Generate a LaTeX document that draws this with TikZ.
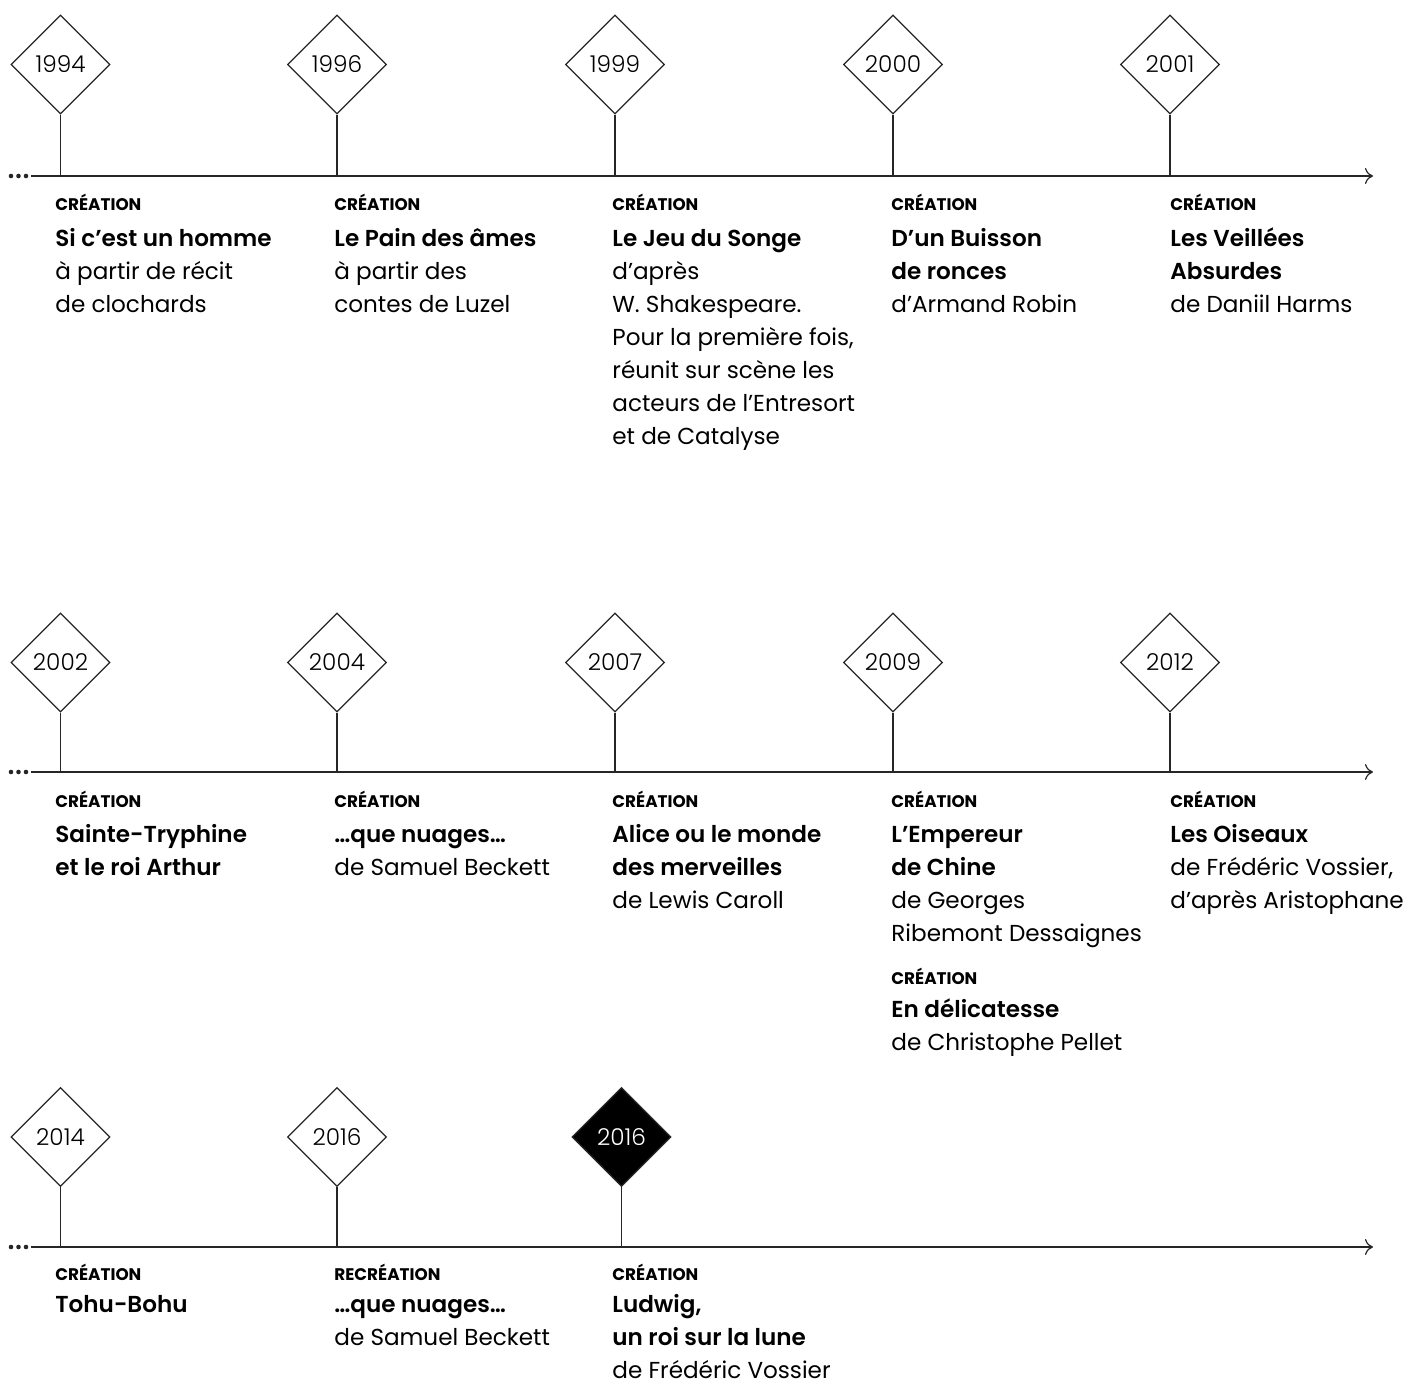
\documentclass[tikz,border=0pt]{standalone}
\usepackage{fontspec}
\setmainfont{Poppins}[BoldFont=* SemiBold]
\newfontfamily\yearfont{Poppins}[UprightFont=* Light]
\newfontfamily\tagfont{Poppins}[UprightFont=* Bold]
\usetikzlibrary{shapes,arrows.meta}
\tikzstyle{year} = [diamond, draw=black!85, line width=0.6pt, minimum width=49.5pt, minimum height=49.5pt, inner sep=0pt, font=\yearfont\fontsize{11.6}{13}\selectfont]
\tikzstyle{lastyear} = [year, fill=black, text=white]
\tikzstyle{tag} = [anchor=base west, inner sep=0pt, font=\tagfont\fontsize{8.4}{10}\selectfont]
\tikzstyle{info} = [anchor=north west, inner sep=0pt, align=left, font=\fontsize{11.55}{16.5}\selectfont]
\tikzstyle{stem} = [draw=black!85, line width=0.6pt]
\tikzstyle{timeline} = [draw=black!85, line width=0.6pt, -{To[length=4pt,width=8pt]}]

\begin{document}
\begin{tikzpicture}[x=0.5pt, y=-0.5pt]
      \useasboundingbox (0,0) rectangle (1403,1384);

      % first row
      \coordinate (startA) at (31,176);
      \coordinate (endA) at (1373,176);
      \fill[black!85] (11,176) circle (2.3) (18.5,176) circle (2.3) (26,176) circle (2.3);
      \path [timeline] (startA) -- (endA);

      \node [year] (y1994) at (60.5,64.5) {1994};
      \node [year] (y1996) at (337,64.5) {1996};
      \node [year] (y1999) at (615,64.5) {1999};
      \node [year] (y2000) at (893,64.5) {2000};
      \node [year] (y2001) at (1170,64.5) {2001};

      \path [stem] (y1994) -- (y1994 |- endA);
      \path [stem] (y1996) -- (y1996 |- endA);
      \path [stem] (y1999) -- (y1999 |- endA);
      \path [stem] (y2000) -- (y2000 |- endA);
      \path [stem] (y2001) -- (y2001 |- endA);

      \node [tag] (t1994) at (55,211) {CRÉATION};
      \node [info] (i1994) at (55,222.9) {\strut\textbf{Si c’est un homme}\\à partir de récit\\de clochards};
      \node [tag] (t1996) at (334,211) {CRÉATION};
      \node [info] (i1996) at (334,222.9) {\strut\textbf{Le Pain des âmes}\\à partir des\\contes de Luzel};
      \node [tag] (t1999) at (612,211) {CRÉATION};
      \node [info] (i1999) at (612,222.9) {\strut\textbf{Le Jeu du Songe}\\d’après\\W. Shakespeare.\\Pour la première fois,\\réunit sur scène les\\acteurs de l’Entresort\\et de Catalyse};
      \node [tag] (t2000) at (891,211) {CRÉATION};
      \node [info] (i2000) at (891,222.9) {\strut\textbf{D’un Buisson}\\\textbf{de ronces}\\d’Armand Robin};
      \node [tag] (t2001) at (1170,211) {CRÉATION};
      \node [info] (i2001) at (1170,222.9) {\strut\textbf{Les Veillées}\\\textbf{Absurdes}\\de Daniil Harms};

      % second row
      \coordinate (startB) at (31,772);
      \coordinate (endB) at (1373,772);
      \fill[black!85] (11,772) circle (2.3) (18.5,772) circle (2.3) (26,772) circle (2.3);
      \path [timeline] (startB) -- (endB);

      \node [year] (y2002) at (60.5,662.5) {2002};
      \node [year] (y2004) at (337,662.5) {2004};
      \node [year] (y2007) at (615,662.5) {2007};
      \node [year] (y2009) at (893,662.5) {2009};
      \node [year] (y2012) at (1170,662.5) {2012};

      \path [stem] (y2002) -- (y2002 |- endB);
      \path [stem] (y2004) -- (y2004 |- endB);
      \path [stem] (y2007) -- (y2007 |- endB);
      \path [stem] (y2009) -- (y2009 |- endB);
      \path [stem] (y2012) -- (y2012 |- endB);

      \node [tag] (t2002) at (55,807) {CRÉATION};
      \node [info] (i2002) at (55,818.9) {\strut\textbf{Sainte-Tryphine}\\\textbf{et le roi Arthur}};
      \node [tag] (t2004) at (334,807) {CRÉATION};
      \node [info] (i2004) at (334,818.9) {\strut\textbf{…que nuages…}\\de Samuel Beckett};
      \node [tag] (t2007) at (612,807) {CRÉATION};
      \node [info] (i2007) at (612,818.9) {\strut\textbf{Alice ou le monde}\\\textbf{des merveilles}\\de Lewis Caroll};
      \node [tag] (t2009) at (891,807) {CRÉATION};
      \node [info] (i2009) at (891,818.9) {\strut\textbf{L’Empereur}\\\textbf{de Chine}\\de Georges\\Ribemont Dessaignes};
      \node [tag] (t2009b) at (891,984) {CRÉATION};
      \node [info] (i2009b) at (891,993.9) {\strut\textbf{En délicatesse}\\de Christophe Pellet};
      \node [tag] (t2012) at (1170,807) {CRÉATION};
      \node [info] (i2012) at (1170,818.9) {\strut\textbf{Les Oiseaux}\\de Frédéric Vossier,\\d’après Aristophane};

      % third row
      \coordinate (startC) at (31,1247);
      \coordinate (endC) at (1373,1247);
      \fill[black!85] (11,1247) circle (2.3) (18.5,1247) circle (2.3) (26,1247) circle (2.3);
      \path [timeline] (startC) -- (endC);

      \node [year] (y2014) at (60.5,1137) {2014};
      \node [year] (y2016) at (337,1137) {2016};
      \node [lastyear] (y2016b) at (621.5,1137) {2016};

      \path [stem] (y2014) -- (y2014 |- endC);
      \path [stem] (y2016) -- (y2016 |- endC);
      \path [stem] (y2016b) -- (y2016b |- endC);

      \node [tag] (t2014) at (55,1280) {CRÉATION};
      \node [info] (i2014) at (55,1289) {\strut\textbf{Tohu-Bohu}};
      \node [tag] (t2016) at (334,1280) {RECRÉATION};
      \node [info] (i2016) at (334,1289) {\strut\textbf{…que nuages…}\\de Samuel Beckett};
      \node [tag] (t2016b) at (612,1280) {CRÉATION};
      \node [info] (i2016b) at (612,1289) {\strut\textbf{Ludwig,}\\\textbf{un roi sur la lune}\\de Frédéric Vossier};
    \end{tikzpicture}
\end{document}
